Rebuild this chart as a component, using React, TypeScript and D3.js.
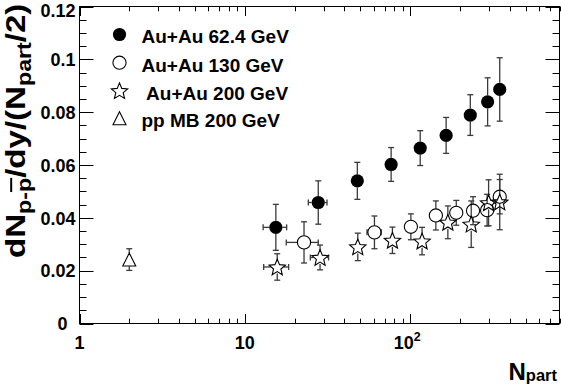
import React from 'react';
import * as d3 from 'd3';

const W = 561;
const H = 384;
const frame = { left: 79.5, right: 559.5, top: 6.5, bottom: 323.5 };

// Au+Au 62.4 GeV (filled circles)
const npart62 = [15.4, 27.8, 47.9, 76.7, 115, 165, 231, 294, 348];
const ratio62 = [0.0364, 0.0458, 0.054, 0.0602, 0.0664, 0.0712, 0.0789, 0.0839, 0.0886];
const errY62 = [0.0087, 0.0082, 0.007, 0.0064, 0.0066, 0.0068, 0.0077, 0.0091, 0.012];
const errX62 = [2.5, 3.6, 0, 0, 0, 0, 0, 0, 0];

// Au+Au 130 GeV (open circles)
const npart130 = [22.8, 60.8, 101, 143, 190, 240, 292, 348];
const ratio130 = [0.0307, 0.0345, 0.0366, 0.0409, 0.0419, 0.0427, 0.0429, 0.048];
const errY130 = [0.0078, 0.0062, 0.0049, 0.0055, 0.0047, 0.0053, 0.006, 0.0065];
const errX130 = [5, 6, 0, 0, 0, 0, 0, 0];

// Au+Au 200 GeV (open stars)
const npart200 = [15.7, 28.5, 48.2, 78.1, 118, 169, 234, 298, 348];
const ratio200 = [0.0214, 0.025, 0.029, 0.0315, 0.0312, 0.0383, 0.0376, 0.0457, 0.046];
const errY200 = [0.005, 0.0047, 0.0052, 0.005, 0.0052, 0.0062, 0.0088, 0.0087, 0.0105];
const errX200 = [2.7, 3.6, 0, 0, 0, 0, 0, 0, 0];

// pp MB 200 GeV (open triangle)
const npartPP = [2];
const ratioPP = [0.0242];
const errYPP = [0.0041];
const errXPP = [0];

const legendLabels = ['Au+Au 62.4 GeV', 'Au+Au 130 GeV', ' Au+Au 200 GeV', 'pp MB 200 GeV'];
const yTickValues = [0, 0.02, 0.04, 0.06, 0.08, 0.1, 0.12];
const yTickLabels = ['0', '0.02', '0.04', '0.06', '0.08', '0.1', '0.12'];
const xTickValues = [1, 10, 100];
const xTickLabels = [['1', ''], ['10', ''], ['10', '2']];

type Kind = 'filled' | 'open' | 'star' | 'tri';

const FONT = "'Liberation Sans', Arial, Helvetica, sans-serif";
const ERR = '#3a3a3a';

function starPath(cx: number, cy: number, R: number, ratio: number) {
  const pts: string[] = [];
  for (let i = 0; i < 10; i++) {
    const r = i % 2 === 0 ? R : R * ratio;
    const a = -Math.PI / 2 + (i * Math.PI) / 5;
    pts.push(`${(cx + r * Math.cos(a)).toFixed(2)},${(cy + r * Math.sin(a)).toFixed(2)}`);
  }
  return 'M' + pts.join('L') + 'Z';
}

function Marker({ kind, cx, cy }: { kind: Kind; cx: number; cy: number }) {
  if (kind === 'filled') return <circle cx={cx} cy={cy} r={6.6} fill="#000" />;
  if (kind === 'open') return <circle cx={cx} cy={cy} r={6.6} fill="none" stroke="#000" strokeWidth={1.1} />;
  if (kind === 'star')
    return <path d={starPath(cx, cy + 0.8, 8.6, 0.45)} fill="none" stroke="#000" strokeWidth={1.1} />;
  const h = 13;
  const w = 13;
  return (
    <path
      d={`M${cx},${cy - h / 2}L${cx + w / 2},${cy + h / 2}L${cx - w / 2},${cy + h / 2}Z`}
      fill="none"
      stroke="#000"
      strokeWidth={1.1}
    />
  );
}

export default function App() {
  const x = d3.scaleLog().domain([1, 800]).range([frame.left, frame.right]);
  const y = d3.scaleLinear().domain([0, 0.12]).range([frame.bottom, frame.top]);

  const xAllTicks = x.ticks();
  const yMinor = y.ticks(24);

  const series: { kind: Kind; n: number[]; v: number[]; ey: number[]; ex: number[] }[] = [
    { kind: 'filled', n: npart62, v: ratio62, ey: errY62, ex: errX62 },
    { kind: 'open', n: npart130, v: ratio130, ey: errY130, ex: errX130 },
    { kind: 'star', n: npart200, v: ratio200, ey: errY200, ex: errX200 },
    { kind: 'tri', n: npartPP, v: ratioPP, ey: errYPP, ex: errXPP },
  ];

  const gap = 6.6;
  const cap = 3;

  const errorBars = (s: (typeof series)[number], si: number) =>
    s.n.map((n, i) => {
      const cx = x(n);
      const cy = y(s.v[i]);
      const yt = y(s.v[i] + s.ey[i]);
      const yb = y(s.v[i] - s.ey[i]);
      const els: React.ReactNode[] = [];
      if (cy - gap > yt) {
        els.push(<line key="t" x1={cx} x2={cx} y1={yt} y2={cy - gap} />);
        els.push(<line key="tc" x1={cx - cap} x2={cx + cap} y1={yt} y2={yt} />);
      }
      if (yb > cy + gap) {
        els.push(<line key="b" x1={cx} x2={cx} y1={cy + gap} y2={yb} />);
        els.push(<line key="bc" x1={cx - cap} x2={cx + cap} y1={yb} y2={yb} />);
      }
      if (s.ex[i] > 0) {
        const xl = x(n - s.ex[i]);
        const xr = x(n + s.ex[i]);
        if (cx - gap > xl) {
          els.push(<line key="l" x1={xl} x2={cx - gap} y1={cy} y2={cy} />);
          els.push(<line key="lc" x1={xl} x2={xl} y1={cy - cap} y2={cy + cap} />);
        }
        if (xr > cx + gap) {
          els.push(<line key="r" x1={cx + gap} x2={xr} y1={cy} y2={cy} />);
          els.push(<line key="rc" x1={xr} x2={xr} y1={cy - cap} y2={cy + cap} />);
        }
      }
      return <g key={`${si}-${i}`}>{els}</g>;
    });

  const legendMarkers: Kind[] = ['filled', 'open', 'star', 'tri'];
  const legendBase = [43.3, 71.5, 99.5, 127];

  return (
    <svg
      width={W}
      height={H}
      style={{ position: 'absolute', left: 0, top: 0, background: '#fff' }}
      fontFamily={FONT}
    >
      <rect x={0} y={0} width={W} height={H} fill="#fff" />
      {/* ticks */}
      <g stroke="#000" strokeWidth={1}>
        {xAllTicks.map((t, i) => {
          const major = Math.abs(Math.log10(t) - Math.round(Math.log10(t))) < 1e-9;
          const len = major ? 9.5 : 4.8;
          const px = Math.round(x(t)) + 0.5;
          return (
            <g key={'xt' + i}>
              <line x1={px} x2={px} y1={frame.bottom} y2={frame.bottom - len} />
              <line x1={px} x2={px} y1={frame.top} y2={frame.top + len} />
            </g>
          );
        })}
        {yMinor.map((t, i) => {
          const major = Math.abs(t / 0.02 - Math.round(t / 0.02)) < 1e-9;
          const len = major ? 14 : 7;
          const py = Math.round(y(t)) + 0.5;
          return (
            <g key={'yt' + i}>
              <line x1={frame.left} x2={frame.left + len} y1={py} y2={py} />
              <line x1={frame.right} x2={frame.right - len} y1={py} y2={py} />
            </g>
          );
        })}
      </g>
      <rect
        x={frame.left}
        y={frame.top}
        width={frame.right - frame.left}
        height={frame.bottom - frame.top}
        fill="none"
        stroke="#000"
        strokeWidth={1}
      />
      {/* y tick labels */}
      <g fontWeight="bold" fontSize={18} textAnchor="end">
        {yTickValues.map((t, i) => (
          <text key={'yl' + i} x={t === 0 ? 67.5 : 75.5} y={Math.max(y(t) + 6.7, 16.5)}>
            {yTickLabels[i]}
          </text>
        ))}
      </g>
      {/* x tick labels */}
      <g fontWeight="bold" fontSize={18} textAnchor="middle">
        {xTickValues.map((t, i) => (
          <text key={'xl' + i} x={x(t) - (xTickLabels[i][1] ? 3 : 0)} y={348.5}>
            {xTickLabels[i][0]}
            {xTickLabels[i][1] ? (
              <tspan fontSize={12.5} dy={-8}>
                {xTickLabels[i][1]}
              </tspan>
            ) : null}
          </text>
        ))}
      </g>
      {/* axis titles */}
      <text x={557} y={379.5} textAnchor="end" fontWeight="bold" fontSize={24}>
        N<tspan fontSize={16.5} dy={1.5}>part</tspan>
      </text>
      <text
        transform="translate(24.5,258) rotate(-90) scale(1.16,1)"
        fontWeight="bold"
        fontSize={28.5}
      >
        dN
        <tspan fontSize={20} dy={6}>
          p-
        </tspan>
        <tspan fontSize={20} textDecoration="overline">
          p
        </tspan>
        <tspan dy={-6}>/dy/(N</tspan>
        <tspan fontSize={20} dy={6}>
          part
        </tspan>
        <tspan dy={-6}>/2)</tspan>
      </text>
      {/* error bars */}
      <g stroke={ERR} strokeWidth={1.3}>
        {series.map((s, si) => errorBars(s, si))}
      </g>
      {/* markers */}
      {series.map((s, si) =>
        s.n.map((n, i) => <Marker key={`m${si}-${i}`} kind={s.kind} cx={x(n)} cy={y(s.v[i])} />),
      )}
      {/* legend */}
      {legendLabels.map((lab, i) => (
        <g key={'lg' + i}>
          <Marker kind={legendMarkers[i]} cx={119.5} cy={legendBase[i] - 8.8} />
          <text
            x={141.5}
            y={legendBase[i]}
            fontWeight="bold"
            fontSize={19}
            style={{ whiteSpace: 'pre' }}
          >
            {lab}
          </text>
        </g>
      ))}
    </svg>
  );
}
